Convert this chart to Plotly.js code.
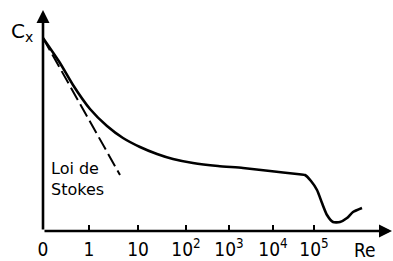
<!DOCTYPE html>
<html>
<head>
<meta charset="utf-8">
<script src="https://cdn.plot.ly/plotly-3.0.1.min.js"></script>
<style>html,body{margin:0;padding:0;background:#fff;}#chart{width:393px;height:261px;}</style>
</head>
<body>
<div id="chart"></div>
<script>
// Schematic drag curve Cx vs Re (positions in drawing units along each axis)
var tickPositions = [0, 46, 95, 143, 186, 230, 271];
var tickLabels = ["0", "1", "10", "10<sup>2</sup>", "10<sup>3</sup>", "10<sup>4</sup>", "10<sup>5</sup>"];

var curveX = [0, 17, 30, 47, 64, 80, 97, 114, 130, 150, 175, 200, 227, 254, 262, 268, 274, 279, 284, 290, 297, 304, 310, 319];
var curveY = [193, 168, 146, 122, 105, 93, 84, 77, 72, 68, 65, 63, 60, 57, 56, 50, 41, 28, 16, 9, 9, 13, 19, 23];

var stokesX = [0, 77];
var stokesY = [193, 56];

var traces = [
  {x: curveX, y: curveY, mode: 'lines', line: {color: '#000', width: 2.6, shape: 'spline', smoothing: 0.6}, hoverinfo: 'skip', cliponaxis: false},
  {x: stokesX, y: stokesY, mode: 'lines', line: {color: '#000', width: 2, dash: '14px,5px'}, hoverinfo: 'skip', cliponaxis: false}
];

var font = {family: '"Liberation Sans Narrow", "DejaVu Sans Condensed", sans-serif', size: 19, color: '#000'};

var layout = {
  width: 393, height: 261,
  margin: {l: 43, r: 0, t: 10, b: 30, pad: 0},
  paper_bgcolor: '#fff', plot_bgcolor: '#fff',
  showlegend: false,
  xaxis: {range: [0, 350], showgrid: false, zeroline: false, showline: false,
          tickmode: 'array', tickvals: tickPositions, ticktext: tickLabels,
          ticks: 'inside', ticklen: 6, tickwidth: 2, tickcolor: '#000',
          tickfont: font, ticklabelstandoff: 5, fixedrange: true},
  yaxis: {range: [0, 221], showgrid: false, zeroline: false, showline: false,
          showticklabels: false, ticks: '', fixedrange: true},
  annotations: [
    {x: 349, y: 0, ax: 0, ay: 0, xref: 'x', yref: 'y', axref: 'x', ayref: 'y', text: '', showarrow: true, arrowhead: 2, arrowsize: 1, arrowwidth: 2.6, arrowcolor: '#000'},
    {x: 0, y: 221, ax: 0, ay: 0, xref: 'x', yref: 'y', axref: 'x', ayref: 'y', text: '', showarrow: true, arrowhead: 2, arrowsize: 1, arrowwidth: 2.6, arrowcolor: '#000'},
    {x: -0.097, y: 0.9, xref: 'paper', yref: 'paper', text: 'C<sub>x</sub>', showarrow: false, xanchor: 'left', yanchor: 'middle', font: {family: 'DejaVu Sans', size: 20, color: '#000'}},
    {x: 6, y: 63, xref: 'x', yref: 'y', text: 'Loi de', showarrow: false, xanchor: 'left', yanchor: 'middle', font: {family: 'DejaVu Sans', size: 16, color: '#000'}},
    {x: 6, y: 42, xref: 'x', yref: 'y', text: 'Stokes', showarrow: false, xanchor: 'left', yanchor: 'middle', font: {family: 'DejaVu Sans', size: 16, color: '#000'}},
    {x: 0.921, y: -0.085, xref: 'paper', yref: 'paper', text: 'Re', showarrow: false, xanchor: 'center', yanchor: 'middle', font: font}
  ]
};

Plotly.newPlot('chart', traces, layout, {staticPlot: true, displayModeBar: false});
</script>
</body>
</html>
